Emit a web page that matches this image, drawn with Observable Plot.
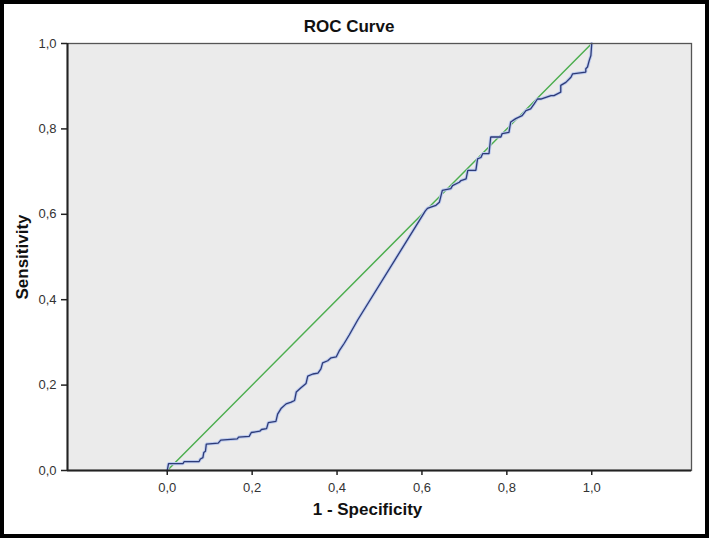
<!DOCTYPE html>
<html><head><meta charset="utf-8">
<script src="https://cdn.jsdelivr.net/npm/d3@7"></script>
<script src="https://cdn.jsdelivr.net/npm/@observablehq/plot@0.6"></script>
<style>
html,body{margin:0;padding:0;background:#fff;}
#chart{box-sizing:border-box;width:709px;height:538px;border:4px solid #000;position:relative;background:#fff;font-family:"Liberation Sans",Arial,sans-serif;overflow:hidden;}
#title{position:absolute;left:0;right:11px;top:13px;text-align:center;font-weight:bold;font-size:17px;line-height:20px;color:#111;z-index:2;}
#plot{position:absolute;left:0;top:26px;}
</style></head><body>
<div id="chart"><div id="title">ROC Curve</div><div id="plot"></div></div>
<script>
// 1 - Specificity (false positive rate) of the ROC curve
const fpr = [0,0.003,0.037,0.040,0.075,0.078,0.084,0.086,0.090,0.092,0.120,0.126,0.165,0.168,0.193,0.198,0.218,0.222,0.234,0.238,0.256,0.260,0.268,0.280,0.292,0.300,0.304,0.315,0.327,0.331,0.343,0.355,0.362,0.366,0.378,0.386,0.398,0.405,0.417,0.429,0.449,0.608,0.613,0.621,0.633,0.641,0.648,0.668,0.672,0.688,0.692,0.704,0.708,0.727,0.731,0.739,0.743,0.758,0.762,0.786,0.789,0.805,0.809,0.821,0.836,0.845,0.856,0.864,0.872,0.880,0.904,0.911,0.927,0.927,0.939,0.951,0.955,0.986,0.986,0.990,0.994,0.998,1.000];
// Sensitivity of the ROC curve
const sensitivity = [0,0.016,0.016,0.021,0.021,0.027,0.030,0.042,0.045,0.062,0.064,0.071,0.074,0.078,0.080,0.089,0.092,0.096,0.098,0.112,0.115,0.132,0.145,0.156,0.160,0.164,0.184,0.194,0.204,0.221,0.226,0.228,0.238,0.252,0.257,0.264,0.266,0.280,0.298,0.318,0.353,0.608,0.614,0.617,0.621,0.628,0.656,0.660,0.667,0.675,0.679,0.683,0.703,0.703,0.730,0.733,0.742,0.742,0.781,0.781,0.789,0.792,0.816,0.824,0.831,0.843,0.847,0.858,0.870,0.870,0.878,0.878,0.886,0.902,0.909,0.921,0.929,0.933,0.941,0.945,0.960,0.972,1.000];
// Reference (diagonal) line
const refX = [0, 1];
const refY = [0, 1];
// Axis ticks
const xTicks = [0, 0.2, 0.4, 0.6, 0.8, 1.0];
const yTicks = [0, 0.2, 0.4, 0.6, 0.8, 1.0];
const xLabel = "1 - Specificity";
const yLabel = "Sensitivity";

const roc = fpr.map((x, i) => ({x, y: sensitivity[i]}));
const ref = refX.map((x, i) => ({x, y: refY[i]}));
const fmt = d => d.toFixed(1).replace(".", ",");
const xDomain = [-0.235, 1.235];

const chart = Plot.plot({
  width: 701,
  height: 504,
  marginLeft: 63,
  marginRight: 14,
  marginTop: 13,
  marginBottom: 64,
  style: {fontFamily: '"Liberation Sans", Arial, sans-serif', background: "transparent", color: "#222"},
  x: {domain: xDomain},
  y: {domain: [0, 1]},
  marks: [
    Plot.frame({fill: "#ebebeb", stroke: null}),
    Plot.line(ref, {x: "x", y: "y", stroke: "#4dae4f", strokeWidth: 1.5}),
    Plot.line(roc, {x: "x", y: "y", stroke: "#bccaee", strokeWidth: 3.2, strokeLinejoin: "miter"}),
    Plot.line(roc, {x: "x", y: "y", stroke: "#2d3b78", strokeWidth: 1.3, strokeLinejoin: "miter"}),
    Plot.frame({stroke: "#555", strokeWidth: 1.3}),
    Plot.ruleY([0], {stroke: "#222", strokeWidth: 2}),
    Plot.ruleX([xDomain[0]], {stroke: "#222", strokeWidth: 2}),
    Plot.axisX(xTicks, {tickSize: 5, tickPadding: 7, tickFormat: fmt, fontSize: 13, label: null, stroke: "#222", strokeWidth: 1.5, fill: "#333"}),
    Plot.axisY(yTicks, {tickSize: 6, tickPadding: 5, tickFormat: fmt, fontSize: 13, label: null, stroke: "#222", strokeWidth: 1.5, fill: "#333"}),
    Plot.text([xLabel], {frameAnchor: "bottom", textAnchor: "middle", dy: 44, dx: -12, fontWeight: "bold", fontSize: 17, fill: "#111"}),
    Plot.text([yLabel], {frameAnchor: "left", textAnchor: "middle", dx: -45, rotate: -90, fontWeight: "bold", fontSize: 17, fill: "#111"})
  ]
});
document.getElementById("plot").appendChild(chart);
</script>
</body></html>
